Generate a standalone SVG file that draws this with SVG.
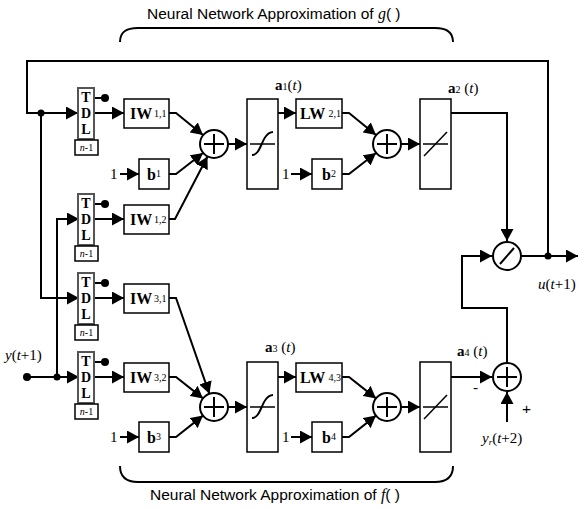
<svg xmlns="http://www.w3.org/2000/svg" width="585" height="509" viewBox="0 0 585 509">
<defs>
<marker id="ah" markerUnits="userSpaceOnUse" markerWidth="12" markerHeight="13" refX="12" refY="6.5" orient="auto">
<path d="M0,0 L12,6.5 L0,13 z" fill="#000"/>
</marker>
<style>
.w{fill:none;stroke:#000;stroke-width:2}
.a{marker-end:url(#ah)}
.box{fill:#fff;stroke:#000;stroke-width:1.5}
.tdl{fill:#fff;stroke:#555;stroke-width:2}
.sum{fill:#fff;stroke:#000;stroke-width:2}
.sym{fill:none;stroke:#000;stroke-width:1.5}
.dot{fill:#000}
.t{font-family:"Liberation Serif",serif;fill:#000}
.bb{font-family:"Liberation Serif",serif;font-weight:bold;font-size:16px;fill:#000}
.sm{font-family:"Liberation Serif",serif;font-size:10px;fill:#000}
.lt{font-family:"Liberation Serif",serif;font-weight:bold;font-size:14px;fill:#000}
.lab{font-family:"Liberation Serif",serif;font-size:15px;fill:#000}
.ttl{font-family:"Liberation Sans",sans-serif;font-size:15.5px;fill:#000}
.it{font-style:italic}
</style>
</defs>
<rect width="585" height="509" fill="#fff"/>

<g id="braces" class="w">
<path d="M120,42 C120,32 126,28 138,28 L435,28 C447,28 453,32 453,42"/>
<path d="M120,466 C120,476 126,482 138,482 L435,482 C447,482 453,476 453,466"/>
</g>
<g id="titles">
<text class="ttl" x="147" y="19">Neural Network Approximation of <tspan class="t it" font-size="16">g</tspan>( )</text>
<text class="ttl" x="150" y="500">Neural Network Approximation of <tspan class="t it" font-size="16">f</tspan>( )</text>
</g>

<g id="connectors">
<path class="w a" d="M548,256 V61 H27 V113 H78"/>
<path class="w a" d="M41,113 V298 H79"/>
<path class="w a" d="M27,377 H79"/>
<path class="w a" d="M57,377 V219 H79"/>
<path class="w a" d="M94,113 H124"/>
<path class="w a" d="M94,219 H124"/>
<path class="w a" d="M94,298 H124"/>
<path class="w a" d="M94,377 H124"/>
<path class="w" d="M94,98 H105"/>
<path class="w" d="M94,204 H105"/>
<path class="w" d="M94,283 H105"/>
<path class="w" d="M94,362 H105"/>
<path class="w a" d="M169,113 H176 L203,135"/>
<path class="w a" d="M169,174 H176 L203,153"/>
<path class="w a" d="M169,219 H175 L207.5,156.5"/>
<path class="w a" d="M120,174 H139"/>
<path class="w a" d="M228,144 H247"/>
<path class="w a" d="M278,113 H296"/>
<path class="w a" d="M291,174 H312"/>
<path class="w a" d="M342,113 H349 L376,135"/>
<path class="w a" d="M342,174 H349 L376,153"/>
<path class="w a" d="M401,144 H420"/>
<path class="w a" d="M451,113 H507 V241"/>
<path class="w a" d="M169,298 H176 L209.4,393.8"/>
<path class="w a" d="M169,377 H176 L203,398.4"/>
<path class="w a" d="M169,437 H176 L203,415.6"/>
<path class="w a" d="M120,437 H139"/>
<path class="w a" d="M228,407 H247"/>
<path class="w a" d="M278,377 H296"/>
<path class="w a" d="M291,437 H312"/>
<path class="w a" d="M342,377 H349 L376,398.4"/>
<path class="w a" d="M342,437 H349 L376,415.6"/>
<path class="w a" d="M401,407 H420"/>
<path class="w a" d="M451,377 H492"/>
<path class="w a" d="M507,362 V308 H462 V256 H492"/>
<path class="w a" d="M507,422 V392"/>
<path class="w a" d="M522,256 H578"/>
<circle class="dot" cx="41" cy="113" r="3.5"/>
<circle class="dot" cx="57" cy="377" r="3.5"/>
<circle class="dot" cx="27" cy="377" r="4"/>
<circle class="dot" cx="548" cy="256" r="3.5"/>
<circle class="dot" cx="105" cy="98" r="4"/>
<circle class="dot" cx="105" cy="204" r="4"/>
<circle class="dot" cx="105" cy="283" r="4"/>
<circle class="dot" cx="105" cy="362" r="4"/>
</g>

<g id="tdl1">
<rect class="tdl" x="78" y="88" width="16" height="51"/>
<text class="lt" x="86" y="102" text-anchor="middle">T</text>
<text class="lt" x="86" y="118" text-anchor="middle">D</text>
<text class="lt" x="86" y="134" text-anchor="middle">L</text>
<rect class="box" x="75" y="140" width="23" height="15"/>
<text class="sm" x="86.5" y="151" text-anchor="middle"><tspan class="it">n</tspan>-1</text>
</g>
<g id="tdl2">
<rect class="tdl" x="78" y="194" width="16" height="51"/>
<text class="lt" x="86" y="208" text-anchor="middle">T</text>
<text class="lt" x="86" y="224" text-anchor="middle">D</text>
<text class="lt" x="86" y="240" text-anchor="middle">L</text>
<rect class="box" x="75" y="246" width="23" height="15"/>
<text class="sm" x="86.5" y="257" text-anchor="middle"><tspan class="it">n</tspan>-1</text>
</g>
<g id="tdl3">
<rect class="tdl" x="78" y="273" width="16" height="51"/>
<text class="lt" x="86" y="287" text-anchor="middle">T</text>
<text class="lt" x="86" y="303" text-anchor="middle">D</text>
<text class="lt" x="86" y="319" text-anchor="middle">L</text>
<rect class="box" x="75" y="325" width="23" height="15"/>
<text class="sm" x="86.5" y="336" text-anchor="middle"><tspan class="it">n</tspan>-1</text>
</g>
<g id="tdl4">
<rect class="tdl" x="78" y="352" width="16" height="51"/>
<text class="lt" x="86" y="366" text-anchor="middle">T</text>
<text class="lt" x="86" y="382" text-anchor="middle">D</text>
<text class="lt" x="86" y="398" text-anchor="middle">L</text>
<rect class="box" x="75" y="404" width="23" height="15"/>
<text class="sm" x="86.5" y="415" text-anchor="middle"><tspan class="it">n</tspan>-1</text>
</g>

<g id="iw11">
<rect class="box" x="124" y="99" width="45" height="29"/>
<text class="bb" x="130" y="119">IW</text><text class="sm" x="154" y="117">1,1</text>
</g>
<g id="iw12">
<rect class="box" x="124" y="205" width="45" height="29"/>
<text class="bb" x="130" y="225">IW</text><text class="sm" x="154" y="223">1,2</text>
</g>
<g id="iw31">
<rect class="box" x="124" y="284" width="45" height="29"/>
<text class="bb" x="130" y="304">IW</text><text class="sm" x="154" y="302">3,1</text>
</g>
<g id="iw32">
<rect class="box" x="124" y="363" width="45" height="29"/>
<text class="bb" x="130" y="383">IW</text><text class="sm" x="154" y="381">3,2</text>
</g>

<g id="b1">
<text class="lab" x="110" y="179">1</text>
<rect class="box" x="139" y="159" width="30" height="30"/>
<text class="bb" x="147" y="180">b</text><text class="sm" x="156" y="177">1</text>
</g>
<g id="b3">
<text class="lab" x="110" y="442">1</text>
<rect class="box" x="139" y="422" width="30" height="30"/>
<text class="bb" x="147" y="443">b</text><text class="sm" x="156" y="440">3</text>
</g>
<g id="b2">
<text class="lab" x="282" y="179">1</text>
<rect class="box" x="312" y="159" width="30" height="30"/>
<text class="bb" x="322" y="180">b</text><text class="sm" x="331" y="177">2</text>
</g>
<g id="b4">
<text class="lab" x="282" y="442">1</text>
<rect class="box" x="312" y="422" width="30" height="30"/>
<text class="bb" x="322" y="443">b</text><text class="sm" x="331" y="440">4</text>
</g>

<g id="sum1">
<circle class="sum" cx="214" cy="144" r="14"/>
<path class="w" d="M204,144 H224 M214,134 V154"/>
</g>
<g id="sum3">
<circle class="sum" cx="214" cy="407" r="14"/>
<path class="w" d="M204,407 H224 M214,397 V417"/>
</g>
<g id="sum2">
<circle class="sum" cx="387" cy="144" r="14"/>
<path class="w" d="M377,144 H397 M387,134 V154"/>
</g>
<g id="sum4">
<circle class="sum" cx="387" cy="407" r="14"/>
<path class="w" d="M377,407 H397 M387,397 V417"/>
</g>
<g id="sum5">
<circle class="sum" cx="507" cy="377" r="14"/>
<path class="w" d="M497,377 H517 M507,367 V387"/>
<text class="ttl" x="473" y="393" font-size="13">-</text>
<text class="ttl" x="522" y="414" font-size="13">+</text>
</g>
<g id="div">
<circle class="sum" cx="507" cy="256" r="14"/>
<path class="w" d="M500,264 L514,248"/>
</g>

<g id="tansig1">
<rect class="box" x="247" y="99" width="31" height="90"/>
<path class="sym" d="M250,144 H275"/>
<path class="w" d="M252,155 C262,155 261,133 273,132"/>
<text class="t" x="275" y="90"><tspan font-weight="bold" font-size="15">a</tspan><tspan font-size="10">1</tspan><tspan font-size="15">(<tspan class="it">t</tspan>)</tspan></text>
</g>
<g id="tansig3">
<rect class="box" x="247" y="362" width="31" height="90"/>
<path class="sym" d="M250,407 H275"/>
<path class="w" d="M252,418 C262,418 261,396 273,395"/>
<text class="t" x="265" y="352"><tspan font-weight="bold" font-size="15">a</tspan><tspan font-size="10">3</tspan><tspan font-size="15"> (<tspan class="it">t</tspan>)</tspan></text>
</g>
<g id="lw21">
<rect class="box" x="296" y="99" width="46" height="29"/>
<text class="bb" x="300" y="119" font-size="15.5">LW</text><text class="sm" x="328.5" y="117" font-size="9">2,1</text>
</g>
<g id="lw43">
<rect class="box" x="296" y="363" width="46" height="29"/>
<text class="bb" x="300" y="383" font-size="15.5">LW</text><text class="sm" x="328.5" y="381" font-size="9">4,3</text>
</g>
<g id="purelin2">
<rect class="box" x="420" y="99" width="31" height="90"/>
<path class="sym" d="M423,144 H448"/>
<path class="sym" d="M424,156 L447,132"/>
<text class="t" x="448" y="93"><tspan font-weight="bold" font-size="15">a</tspan><tspan font-size="10">2</tspan><tspan font-size="15"> (<tspan class="it">t</tspan>)</tspan></text>
</g>
<g id="purelin4">
<rect class="box" x="420" y="362" width="31" height="90"/>
<path class="sym" d="M423,407 H448"/>
<path class="sym" d="M424,419 L447,395"/>
<text class="t" x="457" y="356"><tspan font-weight="bold" font-size="15">a</tspan><tspan font-size="10">4</tspan><tspan font-size="15"> (<tspan class="it">t</tspan>)</tspan></text>
</g>

<g id="labels">
<text class="lab" x="5" y="360"><tspan class="it">y</tspan>(<tspan class="it">t</tspan>+1)</text>
<text class="lab" x="538" y="289"><tspan class="it">u</tspan>(<tspan class="it">t</tspan>+1)</text>
<text class="lab" x="482" y="443"><tspan class="it">y</tspan><tspan font-size="9" dy="2" class="it">r</tspan><tspan dy="-2">(</tspan><tspan class="it">t</tspan>+2)</text>
</g>
</svg>
